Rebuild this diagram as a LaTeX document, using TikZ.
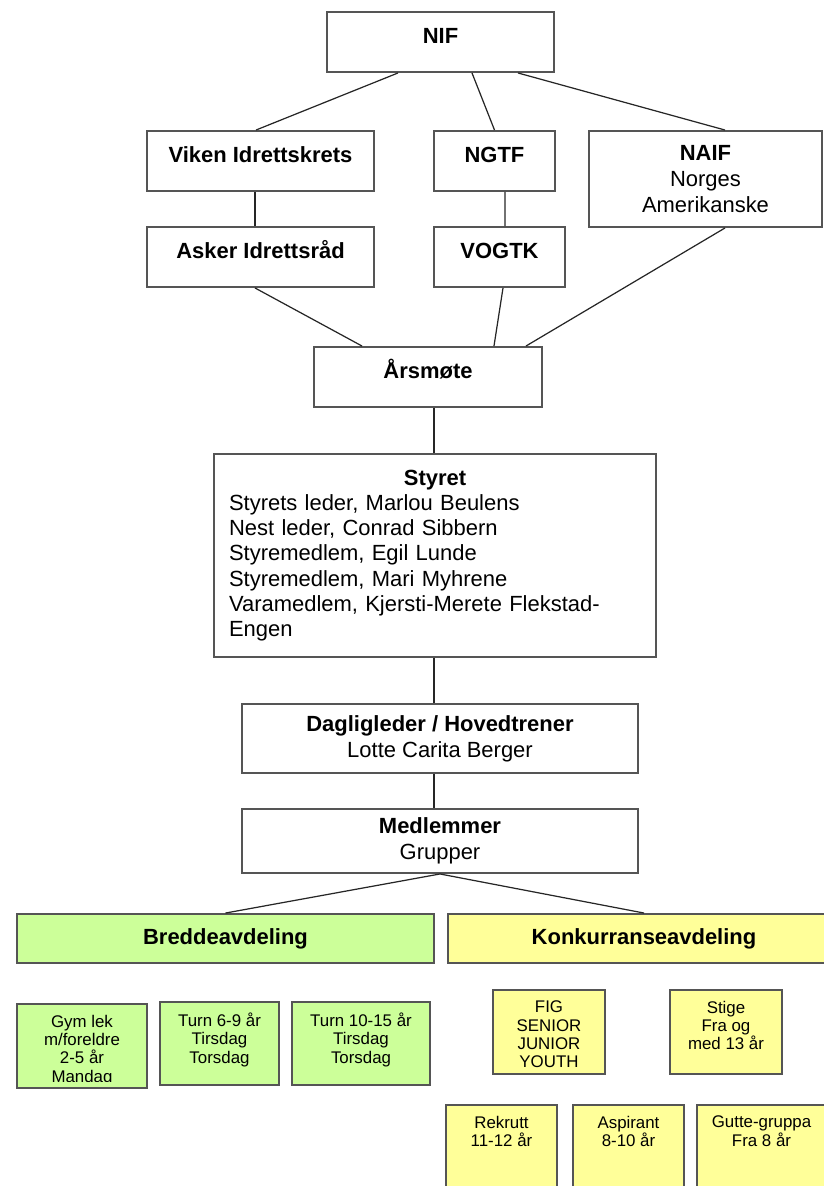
\documentclass[tikz,border=0pt]{standalone}
\usepackage{fontspec}
\setmainfont{Liberation Sans}
\definecolor{bordergray}{HTML}{555555}
\definecolor{breddegreen}{HTML}{CCFF99}
\definecolor{konkyellow}{HTML}{FFFF99}

\begin{document}
\begin{tikzpicture}[x=0.02cm, y=-0.02cm,
    orgbox/.style={draw=bordergray, line width=1.1pt, fill=white, align=center, inner sep=0pt,
        font=\fontsize{12.5}{14.6}\selectfont},
    wh/.style 2 args={minimum width=#1*0.02cm, minimum height=#2*0.02cm},
    oneline/.style={text height=0.32cm, text depth=0.26cm},
    grp/.style={draw=bordergray, line width=1.1pt, inner sep=0pt,
        path picture={
            \clip ([yshift=0.14cm]path picture bounding box.south west) rectangle (path picture bounding box.north east);
            \node[draw=none, fill=none, minimum width=0pt, minimum height=0pt, anchor=north, align=center,
                inner sep=0pt, font=\fontsize{9.6}{10.4}\selectfont]
                at ([yshift=-0.2cm]path picture bounding box.north) {#1};}},
    link/.style={draw=black!85, line width=0.7pt}]
            \useasboundingbox (0,0) rectangle (823,1186);

            \node[orgbox, wh={227}{60}, oneline] (NIF) at (440.5,42) {\textbf{NIF}};
            \node[orgbox, wh={227}{60}, oneline] (Viken) at (260.5,161) {\textbf{Viken Idrettskrets}};
            \node[orgbox, wh={121}{60}, oneline] (NGTF) at (494.5,161) {\textbf{NGTF}};
            \node[orgbox, wh={233}{96}] (NAIF) at (705.5,179) {\textbf{NAIF}\\Norges\\Amerikanske};
            \node[orgbox, wh={227}{60}, oneline] (Asker) at (260.5,257) {\textbf{Asker Idrettsråd}};
            \node[orgbox, wh={131}{60}, oneline] (VOGTK) at (499.5,257) {\textbf{VOGTK}};
            \node[orgbox, wh={228}{60}, oneline] (Aarsmote) at (428,377) {\textbf{Årsmøte}};
            \node[orgbox, wh={442}{203}, align=left, text width=8.24cm, font=\fontsize{12.5}{14.35}\selectfont] (Styret) at (435,555.5)
                {\makebox[\hsize]{\textbf{Styret}}\\
                 Styrets leder, Marlou Beulens\\
                 Nest leder, Conrad Sibbern\\
                 Styremedlem, Egil Lunde\\
                 Styremedlem, Mari Myhrene\\
                 Varamedlem, Kjersti-Merete Flekstad-\\
                 Engen};
            \node[orgbox, wh={396}{69}] (Daglig) at (440,738.5) {\textbf{Dagligleder / Hovedtrener}\\Lotte Carita Berger};
            \node[orgbox, wh={396}{64}] (Medlem) at (440,841) {\textbf{Medlemmer}\\Grupper};

            \node[orgbox, wh={417}{49}, fill=breddegreen] (Bredde) at (225.5,938.5) {\textbf{Breddeavdeling}};
            \node[orgbox, wh={392}{49}, fill=konkyellow] (Konk) at (644,938.5) {\textbf{Konkurranseavdeling}};

            \node[grp={Gym lek\\m/foreldre\\2-5 år\\Mandag}, wh={130}{84}, fill=breddegreen] (Gym) at (82,1046) {};
            \node[grp={Turn 6-9 år\\Tirsdag\\Torsdag}, wh={119}{83}, fill=breddegreen] (TurnA) at (219.5,1043.5) {};
            \node[grp={Turn 10-15 år\\Tirsdag\\Torsdag}, wh={138}{83}, fill=breddegreen] (TurnB) at (361,1043.5) {};

            \node[grp={FIG\\SENIOR\\JUNIOR\\YOUTH}, wh={112}{84}, fill=konkyellow] (FIG) at (549,1032) {};
            \node[grp={Stige\\Fra og\\med 13 år}, wh={112}{84}, fill=konkyellow] (Stige) at (726,1032) {};
            \node[grp={Rekrutt\\11-12 år}, wh={111}{100}, fill=konkyellow] (Rekrutt) at (501.5,1155) {};
            \node[grp={Aspirant\\8-10 år}, wh={111}{100}, fill=konkyellow] (Aspirant) at (628.5,1155) {};
            \node[grp={Gutte-gruppa\\Fra 8 år}, wh={129}{100}, fill=konkyellow] (Gutte) at (761.5,1155) {};

            \draw[link] ([xshift=-0.85cm]NIF.south) -- ([xshift=-0.09cm]Viken.north);
            \draw[link] ([xshift=0.63cm]NIF.south) -- (NGTF.north);
            \draw[link] ([xshift=1.55cm]NIF.south) -- ([xshift=0.39cm]NAIF.north);
            \draw[link] ([xshift=-0.11cm]Viken.south) -- ([xshift=-0.11cm]Asker.north);
            \draw[link] ([xshift=0.21cm]NGTF.south) -- ([xshift=0.11cm]VOGTK.north);
            \draw[link] ([xshift=-0.11cm]Asker.south) -- ([xshift=-1.32cm]Aarsmote.north);
            \draw[link] ([xshift=0.07cm]VOGTK.south) -- ([xshift=1.32cm]Aarsmote.north);
            \draw[link] ([xshift=0.39cm]NAIF.south) -- ([xshift=1.96cm]Aarsmote.north);
            \draw[link] ([xshift=0.12cm]Aarsmote.south) -- ([xshift=0.12cm]Aarsmote.south |- Styret.north);
            \draw[link] ([xshift=-0.12cm]Daglig.north |- Styret.south) -- ([xshift=-0.12cm]Daglig.north);
            \draw[link] ([xshift=-0.12cm]Daglig.south) -- ([xshift=-0.12cm]Medlem.north);
            \draw[link] (Medlem.south) -- (Bredde.north);
            \draw[link] (Medlem.south) -- (Konk.north);
        \end{tikzpicture}
\end{document}
